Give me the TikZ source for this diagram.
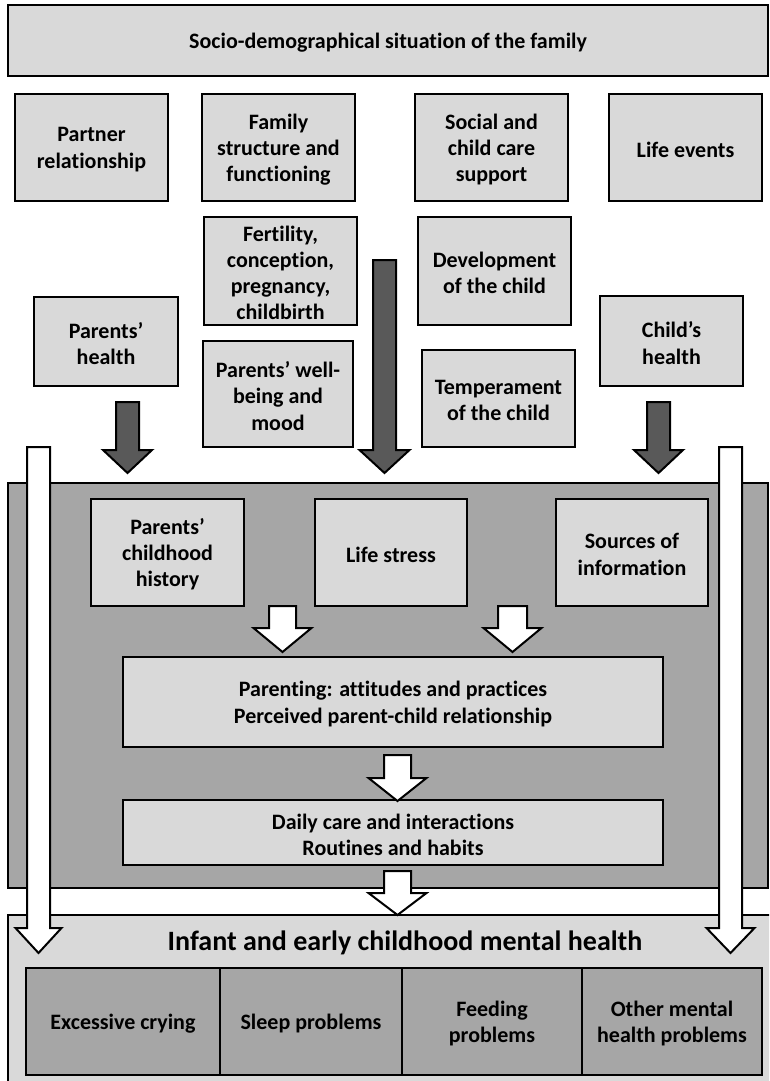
\documentclass[tikz,border=0pt]{standalone}
\usepackage{fontspec}
\setmainfont{Carlito}[RawFeature=-liga]
\definecolor{lg}{HTML}{D9D9D9}
\definecolor{mg}{HTML}{A6A6A6}
\definecolor{dg}{HTML}{595959}
\tikzset{
  box/.style={draw=black, line width=2pt, fill=lg, inner sep=0pt},
  cell/.style={box, fill=mg},
  boxtext/.style={align=center, inner sep=0pt, font=\fontsize{22}{26.2}\selectfont\bfseries},
  arr/.style={draw=black, line width=2pt, line join=miter},
}
\newcommand{\blockarr}[8]{% name, fill, cx, shaft half, head half, top, head start, tip
  \coordinate (#1) at (#3,#8);
  \draw[arr, fill=#2] ({#3-#4},#6) -- ({#3+#4},#6) -- ({#3+#4},#7) -- ({#3+#5},#7)
    -- (#1) -- ({#3-#5},#7) -- ({#3-#4},#7) -- cycle;}
\newcommand{\bx}[7][box]{% style, name, x1, y1, x2, y2, text
  \node[#1, minimum width={(#5-#3)*1pt}, minimum height={(#6-#4)*1pt}] (#2) at ({(#3+#5)/2},{(#4+#6)/2}) {};
  \node[boxtext] (#2-t) at ([yshift=-2pt]#2.center) {#7};}
\begin{document}
\begin{tikzpicture}[x=1pt,y=-1pt]
\useasboundingbox (0,0) rectangle (769,1081);
\clip (0,0) rectangle (769,1081);
% top
\bx{socio}{8}{5}{768}{76}{Socio-demographical situation of the family}
\bx{partner}{15}{94}{168}{201}{Partner\\relationship}
\bx{family}{202}{94}{355}{201}{Family\\structure and\\functioning}
\bx{social}{415}{94}{568}{201}{Social and\\child care\\support}
\bx{events}{609}{94}{762}{201}{Life events}
\bx{fert}{204}{217}{357}{325}{Fertility,\\conception,\\pregnancy,\\childbirth}
\bx{devel}{418}{217}{571}{325}{Development\\of the child}
\bx{phealth}{34}{297}{178}{386}{Parents'\\health}
\bx{chealth}{600}{296}{743}{386}{Child's\\health}
\bx{wellb}{203}{341}{353}{447}{Parents' well-\\being and\\mood}
\bx{temper}{422}{350}{575}{447}{Temperament\\of the child}
% dark arrows
\blockarr{dA}{dg}{127.5}{11.5}{24.5}{402}{450}{473}
\blockarr{dB}{dg}{384.5}{11.5}{25}{260}{450}{473}
\blockarr{dC}{dg}{658.5}{11.5}{24.5}{402}{450}{473}
% middle panel
\node[box, fill=mg, minimum width=760pt, minimum height=405pt] (panel) at (388,685.5) {};
% bottom panel
\node[box, minimum width=772pt, minimum height=180pt] (bottom) at (394,1005) {};
\node[font=\fontsize{28}{32}\selectfont\bfseries] (imh) at (405,943) {Infant and early childhood mental health};
\bx{hist}{91}{499}{244}{606}{Parents'\\childhood\\history}
\bx{stress}{315}{499}{467}{606}{Life stress}
\bx{sources}{556}{499}{708}{606}{Sources of\\information}
\bx{parenting}{123}{657}{663}{747}{Parenting: attitudes and practices\\Perceived parent-child relationship}
\bx{daily}{123}{800}{663}{865}{Daily care and interactions\\Routines and habits}
% white arrows
\blockarr{wA}{white}{282.5}{13.5}{29}{606}{628}{652}
\blockarr{wB}{white}{512.5}{14.5}{29}{606}{628}{652}
\blockarr{wC}{white}{397.5}{13.5}{29}{755}{778}{801}
\blockarr{wD}{white}{397.5}{13.5}{29}{871}{893}{915}
\blockarr{wL}{white}{38.5}{11.5}{23}{447}{928}{953}
\blockarr{wR}{white}{730.5}{11.5}{24}{447}{928}{953}
% cells
\bx[cell]{crying}{26}{968}{220}{1075}{Excessive crying}
\bx[cell]{sleep}{220}{968}{402}{1075}{Sleep problems}
\bx[cell]{feeding}{402}{968}{582}{1075}{Feeding\\problems}
\bx[cell]{other}{582}{968}{762}{1075}{Other mental\\health problems}
\end{tikzpicture}
\end{document}
